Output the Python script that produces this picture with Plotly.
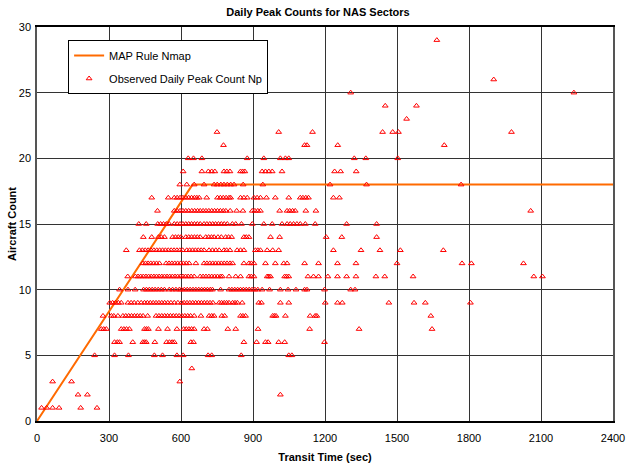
import plotly.graph_objects as go

# Observed daily peak counts: transit times (sec) grouped by aircraft count
n01 = [19, 40, 65, 92, 182, 250]
n02 = [171, 210, 1014]
n03 = [65, 144, 595]
n04 = [645]
n05 = [240, 323, 381, 489, 523, 583, 609, 713, 728, 851, 1049, 1062]
n06 = [323, 335, 344, 399, 441, 448, 455, 491, 540, 552, 563, 572, 641, 652,
       862, 915, 952, 963, 1007, 1032, 1198]
n07 = [268, 278, 289, 351, 362, 373, 385, 448, 456, 464, 506, 544, 583, 611,
       622, 633, 644, 655, 696, 710, 795, 828, 921, 1136, 1342, 1646]
n08 = [275, 310, 320, 337, 358, 370, 382, 394, 406, 418, 430, 442, 461, 496,
       508, 520, 532, 544, 556, 568, 580, 592, 604, 616, 628, 640, 655, 683,
       717, 728, 738, 770, 782, 848, 858, 869, 982, 989, 996, 1035, 1138, 1159,
       1166, 1641]
n09 = [303, 315, 327, 339, 351, 379, 392, 405, 420, 434, 448, 460, 472, 484,
       496, 508, 520, 532, 545, 558, 572, 587, 602, 613, 625, 637, 649, 661,
       673, 685, 697, 709, 721, 733, 759, 769, 780, 790, 800, 815, 825, 835,
       855, 924, 935, 1014, 1049, 1201, 1252, 1272, 1466, 1571, 1618, 1806]
n10 = [344, 379, 409, 444, 456, 468, 480, 492, 505, 518, 531, 551, 565, 579,
       593, 602, 614, 626, 638, 650, 662, 674, 686, 698, 710, 722, 731, 765,
       800, 812, 824, 836, 848, 860, 872, 884, 896, 908, 920, 938, 969, 1014,
       1046, 1079, 1115, 1125, 1198, 1307, 1325]
n11 = [378, 410, 421, 432, 443, 454, 465, 476, 487, 498, 509, 520, 531, 542,
       553, 564, 575, 586, 597, 608, 619, 630, 642, 655, 680, 692, 704, 716,
       728, 740, 752, 764, 772, 800, 828, 848, 883, 893, 904, 959, 966, 973,
       1032, 1040, 1049, 1129, 1152, 1173, 1212, 1252, 1290, 1329, 1412, 1449,
       1567, 2070, 2106]
n12 = [441, 452, 463, 474, 486, 498, 510, 538, 550, 562, 574, 586, 598, 610,
       622, 634, 662, 696, 708, 720, 732, 744, 756, 768, 780, 792, 804, 815,
       862, 883, 893, 904, 952, 993, 1028, 1042, 1115, 1173, 1252, 1329, 1500,
       1771, 1810, 2027]
n13 = [372, 427, 439, 451, 463, 475, 487, 499, 511, 523, 535, 547, 559, 571,
       583, 595, 607, 624, 636, 648, 660, 672, 684, 696, 717, 731, 745, 759,
       779, 790, 804, 834, 848, 862, 910, 920, 931, 959, 982, 1007, 1235, 1350,
       1429, 1514, 1693]
n14 = [443, 478, 506, 518, 531, 565, 577, 589, 600, 620, 632, 644, 656, 668,
       680, 703, 715, 727, 738, 754, 768, 786, 798, 811, 862, 872, 883, 973,
       1011, 1205, 1270, 1415]
n15 = [424, 455, 503, 515, 527, 539, 551, 572, 584, 596, 608, 620, 632, 644,
       656, 668, 680, 696, 708, 720, 732, 744, 756, 768, 780, 793, 814, 828,
       852, 897, 945, 980, 1021, 1042, 1055, 1069, 1083, 1097, 1118, 1159,
       1290, 1415]
n16 = [502, 572, 584, 596, 608, 620, 632, 645, 657, 669, 680, 692, 704, 716,
       728, 740, 752, 764, 776, 787, 805, 832, 858, 897, 908, 920, 931, 1011,
       1042, 1053, 1065, 1076, 1120, 1162, 2057]
n17 = [478, 547, 572, 584, 596, 608, 620, 632, 644, 656, 666, 676, 707, 752,
       764, 776, 788, 800, 807, 848, 862, 876, 904, 917, 931, 956, 993, 1049,
       1097, 1108, 1120, 1131, 1235, 1260]
n18 = [595, 624, 655, 696, 738, 751, 766, 779, 793, 807, 821, 859, 941, 1221,
       1373, 1767]
n19 = [609, 687, 714, 728, 741, 779, 791, 804, 848, 857, 866, 938, 952, 966,
       980, 1021, 1240, 1265, 1330]
n20 = [630, 652, 687, 876, 945, 1014, 1035, 1049, 1322, 1370, 1503]
n21 = [777, 1115, 1125, 1253, 1697]
n22 = [750, 1007, 1148, 1440, 1482, 1506, 1977]
n23 = [1540]
n24 = [1451, 1581]
n25 = [1307, 2237]
n26 = [1903]
n29 = [1666]

count_rows = [
    (1, n01), (2, n02), (3, n03), (4, n04), (5, n05), (6, n06), (7, n07),
    (8, n08), (9, n09), (10, n10), (11, n11), (12, n12), (13, n13),
    (14, n14), (15, n15), (16, n16), (17, n17), (18, n18), (19, n19),
    (20, n20), (21, n21), (22, n22), (23, n23), (24, n24), (25, n25),
    (26, n26), (29, n29),
]

# MAP rule: count grows linearly with transit time up to the cap, then stays flat
map_time = [0, 648, 2400]
map_count = [0, 18, 18]

x_ticks = [0, 300, 600, 900, 1200, 1500, 1800, 2100, 2400]
y_ticks = [0, 5, 10, 15, 20, 25, 30]

obs_time = []
obs_count = []
for count, times in count_rows:
    obs_time.extend(times)
    obs_count.extend([count] * len(times))

FONT = "Liberation Sans, Arial, sans-serif"

fig = go.Figure()
fig.add_trace(go.Scatter(
    x=map_time, y=map_count, mode="lines", name="MAP Rule Nmap",
    line=dict(color="#FF6A00", width=2), legendgroup="a",
))
fig.add_trace(go.Scatter(
    x=obs_time, y=obs_count, mode="markers",
    name="Observed Daily Peak Count Np",
    marker=dict(symbol="triangle-up-open", size=5, color="#FF0000",
                line=dict(width=1, color="#FF0000")),
    legendgroup="b",
))

fig.update_layout(
    width=626, height=468,
    margin=dict(l=37, r=13, t=27, b=47),
    paper_bgcolor="white", plot_bgcolor="white",
    font=dict(family=FONT, size=11, color="black"),
    title=dict(text="<b>Daily Peak Counts for NAS Sectors</b>",
               x=0.508, xanchor="center", y=0.975, yanchor="middle",
               font=dict(size=11, family=FONT, color="black")),
    showlegend=True,
    legend=dict(
        x=0.054, y=0.967, xanchor="left", yanchor="top",
        bgcolor="white", bordercolor="black", borderwidth=1,
        font=dict(size=11, family=FONT), tracegroupgap=4,
        itemwidth=30,
    ),
)

fig.update_xaxes(
    range=[0, 2400], tickvals=x_ticks, ticktext=[str(v) for v in x_ticks],
    showgrid=True, gridcolor="#333333", gridwidth=1,
    showline=True, linecolor="black", linewidth=1.5, mirror=True,
    zeroline=False, ticks="outside", ticklen=6, tickcolor="rgba(0,0,0,0)",
    ticklabeloverflow="allow", automargin=False,
    title=dict(text="<b>Transit Time (sec)</b>", standoff=10,
               font=dict(size=11, family=FONT)),
    tickfont=dict(size=11, family=FONT),
)
fig.update_yaxes(
    range=[0, 30], tickvals=y_ticks, ticktext=[str(v) for v in y_ticks],
    showgrid=True, gridcolor="#333333", gridwidth=1,
    showline=True, linecolor="#555555", linewidth=1.5, mirror=True,
    zeroline=False, ticks="outside", ticklen=2, tickcolor="rgba(0,0,0,0)",
    automargin=False,
    title=dict(text="<b>Aircraft Count</b>", standoff=0,
               font=dict(size=11, family=FONT)),
    tickfont=dict(size=11, family=FONT),
)

fig.write_html("out.html")
